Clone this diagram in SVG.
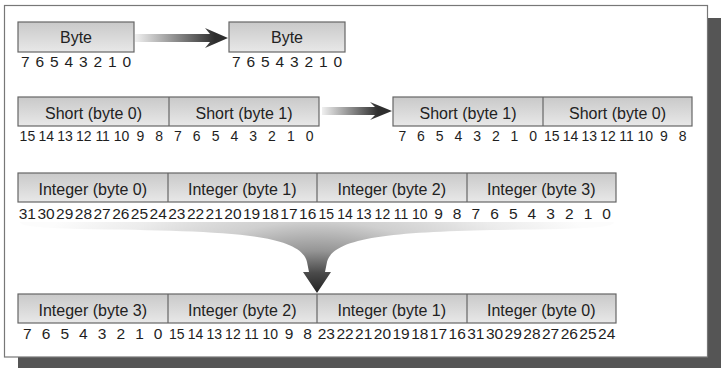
<svg xmlns="http://www.w3.org/2000/svg" width="721" height="368" viewBox="0 0 721 368">
<style>
.box{fill:url(#boxg);stroke:#666;stroke-width:1.2}
.div{stroke:#666;stroke-width:1.2}
.lbl{font-family:"Liberation Sans",Arial,sans-serif;font-size:16px;fill:#222;text-anchor:middle}
.num{font-family:"Liberation Sans",Arial,sans-serif;font-size:15.5px;fill:#1e1e1e;text-anchor:middle}
.sn{font-size:14px}
</style>
<defs>
<linearGradient id="boxg" x1="0" y1="0" x2="0" y2="1">
<stop offset="0" stop-color="#c9c9c9"/>
<stop offset="1" stop-color="#e8e8e8"/>
</linearGradient>
<linearGradient id="arr1" gradientUnits="userSpaceOnUse" x1="135" y1="0" x2="215" y2="0">
<stop offset="0" stop-color="#f0f0f0"/>
<stop offset="1" stop-color="#2e2e2e"/>
</linearGradient>
<linearGradient id="arr2" gradientUnits="userSpaceOnUse" x1="322" y1="0" x2="378" y2="0">
<stop offset="0" stop-color="#f0f0f0"/>
<stop offset="1" stop-color="#2e2e2e"/>
</linearGradient>
<radialGradient id="fun" gradientUnits="userSpaceOnUse" cx="317" cy="295" r="300" gradientTransform="translate(317,295) scale(1,0.49) translate(-317,-295)">
<stop offset="0" stop-color="#1e1e1e"/>
<stop offset="0.15" stop-color="#4a4a4a"/>
<stop offset="0.3" stop-color="#959595"/>
<stop offset="0.5" stop-color="#cfcfcf"/>
<stop offset="0.75" stop-color="#ececec"/>
<stop offset="1" stop-color="#fcfcfc"/>
</radialGradient>
</defs>
<rect x="708" y="18" width="13" height="350" fill="#555"/>
<rect x="18" y="357" width="703" height="11" fill="#555"/>
<rect x="4.5" y="5.5" width="703" height="351.5" fill="#fff" stroke="#777" stroke-width="1.2"/>

<g id="connectors">
<path d="M135,34 L210,34 L205,28 L228,38 L205,48 L210,42 L135,42 Z" fill="url(#arr1)"/>
<path d="M322,107 L375,107 L370,102 L392,111 L370,120 L375,115 L322,115 Z" fill="url(#arr2)"/>
<path d="M20,222 L614,222 C614,226 600,228 560,229 C420,231 335,232 327,262 L325,272 L331,272 L317,293 L303,272 L309,272 L307,262 C300,232 215,231 80,229 C40,228 20,226 20,222 Z" fill="url(#fun)"/>
</g>

<g id="byte-src">
<rect class="box" x="18" y="22" width="116" height="30"/>
<text class="lbl" x="76" y="43">Byte</text>
<text class="num" y="67"><tspan x="25.25">7</tspan><tspan x="39.75">6</tspan><tspan x="54.25">5</tspan><tspan x="68.75">4</tspan><tspan x="83.25">3</tspan><tspan x="97.75">2</tspan><tspan x="112.25">1</tspan><tspan x="126.75">0</tspan></text>
</g>

<g id="byte-dst">
<rect class="box" x="229" y="22" width="116" height="30"/>
<text class="lbl" x="287" y="43">Byte</text>
<text class="num" y="67"><tspan x="236.25">7</tspan><tspan x="250.75">6</tspan><tspan x="265.25">5</tspan><tspan x="279.75">4</tspan><tspan x="294.25">3</tspan><tspan x="308.75">2</tspan><tspan x="323.25">1</tspan><tspan x="337.75">0</tspan></text>
</g>

<g id="short-src">
<rect class="box" x="18" y="97" width="301" height="29"/>
<line class="div" x1="169" y1="97" x2="169" y2="126"/>
<text class="lbl" x="93.5" y="119">Short (byte 0)</text>
<text class="lbl" x="244" y="119">Short (byte 1)</text>
<text class="num sn" y="141"><tspan x="27.41">15</tspan><tspan x="46.22">14</tspan><tspan x="65.03">13</tspan><tspan x="83.84">12</tspan><tspan x="102.66">11</tspan><tspan x="121.47">10</tspan><tspan x="140.28">9</tspan><tspan x="159.09">8</tspan><tspan x="177.91">7</tspan><tspan x="196.72">6</tspan><tspan x="215.53">5</tspan><tspan x="234.34">4</tspan><tspan x="253.16">3</tspan><tspan x="271.97">2</tspan><tspan x="290.78">1</tspan><tspan x="309.59">0</tspan></text>
</g>

<g id="short-dst">
<rect class="box" x="393" y="97" width="299" height="29"/>
<line class="div" x1="543" y1="97" x2="543" y2="126"/>
<text class="lbl" x="468" y="119">Short (byte 1)</text>
<text class="lbl" x="617.5" y="119">Short (byte 0)</text>
<text class="num sn" y="141"><tspan x="402.3">7</tspan><tspan x="421">6</tspan><tspan x="439.7">5</tspan><tspan x="458.4">4</tspan><tspan x="477.1">3</tspan><tspan x="495.8">2</tspan><tspan x="514.5">1</tspan><tspan x="533.2">0</tspan><tspan x="551.8">15</tspan><tspan x="570.5">14</tspan><tspan x="589.2">13</tspan><tspan x="607.9">12</tspan><tspan x="626.6">11</tspan><tspan x="645.3">10</tspan><tspan x="664">9</tspan><tspan x="682.7">8</tspan></text>
</g>

<g id="int-src">
<rect class="box" x="18" y="173" width="598" height="29"/>
<line class="div" x1="168" y1="173" x2="168" y2="202"/>
<line class="div" x1="317" y1="173" x2="317" y2="202"/>
<line class="div" x1="467" y1="173" x2="467" y2="202"/>
<text class="lbl" x="92.75" y="195">Integer (byte 0)</text>
<text class="lbl" x="242.25" y="195">Integer (byte 1)</text>
<text class="lbl" x="391.75" y="195">Integer (byte 2)</text>
<text class="lbl" x="541.25" y="195">Integer (byte 3)</text>
<text class="num" y="219"><tspan x="27.34">31</tspan><tspan x="46.03">30</tspan><tspan x="64.72">29</tspan><tspan x="83.41">28</tspan><tspan x="102.09">27</tspan><tspan x="120.78">26</tspan><tspan x="139.47">25</tspan><tspan x="158.16">24</tspan><tspan x="176.84">23</tspan><tspan x="195.53">22</tspan><tspan x="214.22">21</tspan><tspan x="232.91">20</tspan><tspan x="251.59">19</tspan><tspan x="270.28">18</tspan><tspan x="288.97">17</tspan><tspan x="307.66">16</tspan><tspan class="sn" x="326.34">15</tspan><tspan class="sn" x="345.03">14</tspan><tspan class="sn" x="363.72">13</tspan><tspan class="sn" x="382.41">12</tspan><tspan class="sn" x="401.09">11</tspan><tspan class="sn" x="419.78">10</tspan><tspan x="438.47">9</tspan><tspan x="457.16">8</tspan><tspan x="475.84">7</tspan><tspan x="494.53">6</tspan><tspan x="513.22">5</tspan><tspan x="531.91">4</tspan><tspan x="550.59">3</tspan><tspan x="569.28">2</tspan><tspan x="587.97">1</tspan><tspan x="606.66">0</tspan></text>
</g>

<g id="int-dst">
<rect class="box" x="18" y="294" width="598" height="29"/>
<line class="div" x1="168" y1="294" x2="168" y2="323"/>
<line class="div" x1="317" y1="294" x2="317" y2="323"/>
<line class="div" x1="467" y1="294" x2="467" y2="323"/>
<text class="lbl" x="92.75" y="316">Integer (byte 3)</text>
<text class="lbl" x="242.25" y="316">Integer (byte 2)</text>
<text class="lbl" x="391.75" y="316">Integer (byte 1)</text>
<text class="lbl" x="541.25" y="316">Integer (byte 0)</text>
<text class="num" y="339"><tspan x="27.34">7</tspan><tspan x="46.03">6</tspan><tspan x="64.72">5</tspan><tspan x="83.41">4</tspan><tspan x="102.09">3</tspan><tspan x="120.78">2</tspan><tspan x="139.47">1</tspan><tspan x="158.16">0</tspan><tspan class="sn" x="176.84">15</tspan><tspan class="sn" x="195.53">14</tspan><tspan class="sn" x="214.22">13</tspan><tspan class="sn" x="232.91">12</tspan><tspan class="sn" x="251.59">11</tspan><tspan class="sn" x="270.28">10</tspan><tspan x="288.97">9</tspan><tspan x="307.66">8</tspan><tspan x="326.34">23</tspan><tspan x="345.03">22</tspan><tspan x="363.72">21</tspan><tspan x="382.41">20</tspan><tspan x="401.09">19</tspan><tspan x="419.78">18</tspan><tspan x="438.47">17</tspan><tspan x="457.16">16</tspan><tspan x="475.84">31</tspan><tspan x="494.53">30</tspan><tspan x="513.22">29</tspan><tspan x="531.91">28</tspan><tspan x="550.59">27</tspan><tspan x="569.28">26</tspan><tspan x="587.97">25</tspan><tspan x="606.66">24</tspan></text>
</g>
</svg>
